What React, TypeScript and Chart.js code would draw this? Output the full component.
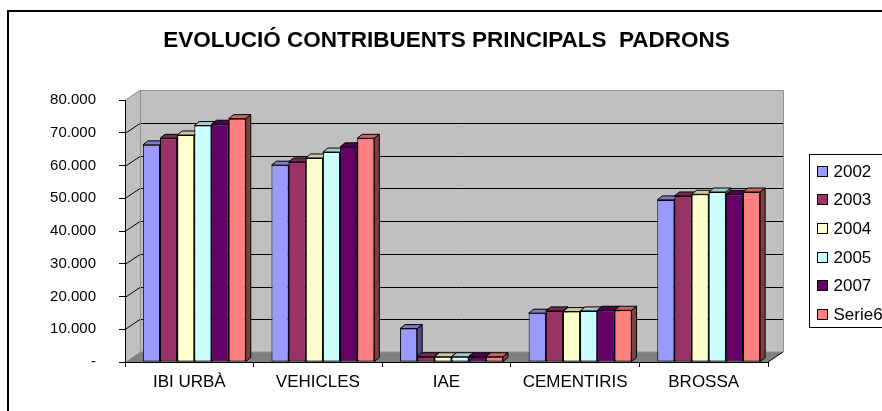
import React, { useEffect, useRef } from 'react';
import { Chart, registerables } from 'chart.js';

Chart.register(...registerables);

const categories = ['IBI URBÀ', 'VEHICLES', 'IAE', 'CEMENTIRIS', 'BROSSA'];
const seriesLabels = ['2002', '2003', '2004', '2005', '2007', 'Serie6'];
const s2002 = [66300, 60100, 10200, 14900, 49500];
const s2003 = [68300, 61100, 1600, 15600, 50700];
const s2004 = [69300, 62300, 1600, 15400, 51200];
const s2005 = [72200, 64100, 1600, 15600, 51900];
const s2007 = [72600, 65700, 1600, 15800, 51200];
const s6 = [74300, 68300, 1600, 15800, 51900];
const seriesValues = [s2002, s2003, s2004, s2005, s2007, s6];
const seriesColors = ['#9999FF', '#993366', '#FFFFCC', '#CCFFFF', '#660066', '#FF8080'];
const yMin = 0;
const yMax = 80000;
const yStep = 10000;
const titleText = 'EVOLUCIÓ CONTRIBUENTS PRINCIPALS  PADRONS';

const FONT = "'Liberation Sans', Arial, Helvetica, sans-serif";
const DX = 15;
const DY = 10;
const BD = 5;
const BDY = 4;

function shade(hex: string, f: number): string {
  const h = hex.replace('#', '');
  const r = Math.round(parseInt(h.slice(0, 2), 16) * f);
  const g = Math.round(parseInt(h.slice(2, 4), 16) * f);
  const b = Math.round(parseInt(h.slice(4, 6), 16) * f);
  return `rgb(${r},${g},${b})`;
}

function poly(ctx: CanvasRenderingContext2D, pts: number[][], fill: string | null, stroke: string | null) {
  ctx.beginPath();
  ctx.moveTo(pts[0][0], pts[0][1]);
  for (let i = 1; i < pts.length; i++) ctx.lineTo(pts[i][0], pts[i][1]);
  ctx.closePath();
  if (fill) {
    ctx.fillStyle = fill;
    ctx.fill();
  }
  if (stroke) {
    ctx.strokeStyle = stroke;
    ctx.stroke();
  }
}

const wallsPlugin = {
  id: 'walls3d',
  beforeDraw(chart: any) {
    const { ctx, chartArea: a, scales } = chart;
    const ys = scales.y;
    const L = a.left, R = a.right, T = a.top, B = a.bottom;
    ctx.save();
    ctx.lineWidth = 1;
    poly(ctx, [[L + DX, T - DY], [R + DX, T - DY], [R + DX, B - DY], [L + DX, B - DY]], '#C0C0C0', null);
    poly(ctx, [[L, T], [L + DX, T - DY], [L + DX, B - DY], [L, B]], '#C0C0C0', null);
    poly(ctx, [[L, B], [L + DX, B - DY], [R + DX, B - DY], [R, B]], '#808080', null);
    ctx.strokeStyle = '#000';
    for (let v = yMin + yStep; v < yMax; v += yStep) {
      const py = Math.round(ys.getPixelForValue(v)) + 0.5;
      ctx.beginPath();
      ctx.moveTo(L, py);
      ctx.lineTo(L + DX, py - DY);
      ctx.lineTo(R + DX, py - DY);
      ctx.stroke();
    }
    ctx.strokeStyle = '#909090';
    const tp = Math.round(T) + 0.5;
    ctx.beginPath();
    ctx.moveTo(L, tp);
    ctx.lineTo(L + DX, tp - DY);
    ctx.lineTo(R + DX + 0.5, tp - DY);
    ctx.lineTo(R + DX + 0.5, B - DY);
    ctx.stroke();
    ctx.beginPath();
    ctx.moveTo(L + DX + 0.5, tp - DY);
    ctx.lineTo(L + DX + 0.5, B - DY);
    ctx.lineTo(R + DX, B - DY);
    ctx.stroke();
    ctx.strokeStyle = '#000';
    ctx.beginPath();
    ctx.moveTo(R, B);
    ctx.lineTo(R + DX, B - DY);
    ctx.stroke();
    ctx.restore();
  },
};

const bars3dPlugin = {
  id: 'bars3d',
  beforeDatasetsDraw(chart: any) {
    const ctx = chart.ctx;
    const n = chart.data.labels.length;
    const metas = chart.data.datasets.map((_: any, i: number) => chart.getDatasetMeta(i));
    ctx.save();
    for (let j = 0; j < n; j++) {
      for (let i = 0; i < metas.length; i++) {
        const el = metas[i].data[j];
        if (!el) continue;
        const { x, y, base, width } = el.getProps(['x', 'y', 'base', 'width'], true);
        const left = x - width / 2;
        const right = x + width / 2;
        const col = seriesColors[i];
        el.draw(ctx);
        ctx.lineWidth = 1;
        poly(ctx, [[left, y], [left + BD, y - BDY], [right + BD, y - BDY], [right, y]], shade(col, 0.8), '#000');
        poly(ctx, [[right, y], [right + BD, y - BDY], [right + BD, base - BDY], [right, base]], shade(col, 0.5), '#000');
      }
    }
    ctx.restore();
    return false;
  },
};

const legendPlugin = {
  id: 'boxLegend',
  afterDraw(chart: any) {
    const { ctx, chartArea: a } = chart;
    const lx = Math.round(a.right + 41) + 0.5;
    const ly = Math.round(a.top + 54) + 0.5;
    const lh = 173;
    ctx.save();
    ctx.lineWidth = 1;
    ctx.fillStyle = '#fff';
    ctx.fillRect(lx, ly, 300, lh);
    ctx.strokeStyle = '#000';
    ctx.strokeRect(lx, ly, 300, lh);
    ctx.font = `17px ${FONT}`;
    ctx.textBaseline = 'middle';
    ctx.textAlign = 'left';
    chart.data.datasets.forEach((ds: any, k: number) => {
      const cy = Math.round(ly + 16 + 28.7 * k);
      ctx.fillStyle = ds.backgroundColor;
      ctx.fillRect(lx + 8, cy - 5, 10, 10);
      ctx.strokeStyle = '#000';
      ctx.strokeRect(lx + 8, cy - 5 + 0.5, 10, 10);
      ctx.fillStyle = '#000';
      ctx.fillText(ds.label, lx + 24, cy + 1);
    });
    ctx.restore();
  },
};

const shiftPlugin = {
  id: 'shiftBars',
  afterLayout(chart: any) {
    const s = chart.scales.xb;
    if (s) {
      s.left += BD;
      s.right += BD;
      s.configure();
    }
  },
};

export default function App() {
  const ref = useRef<HTMLCanvasElement | null>(null);
  useEffect(() => {
    if (!ref.current) return;
    Chart.defaults.font.family = FONT;
    Chart.defaults.color = '#000';
    const chart = new Chart(ref.current, {
      type: 'bar',
      data: {
        labels: categories,
        datasets: seriesLabels.map((label, i) => ({
          label,
          data: seriesValues[i],
          backgroundColor: seriesColors[i],
          borderColor: '#000',
          borderWidth: 1,
          borderSkipped: false,
          xAxisID: 'xb',
          yAxisID: 'y',
          barPercentage: 1,
          categoryPercentage: 0.8,
        })),
      },
      options: {
        animation: false,
        responsive: false,
        maintainAspectRatio: false,
        layout: { padding: { left: 0, right: 114, top: 0, bottom: 0 } },
        plugins: {
          legend: { display: false },
          tooltip: { enabled: false },
          title: {
            display: true,
            text: titleText,
            fullSize: false,
            color: '#000',
            font: { family: FONT, size: 22.5, weight: 'bold', lineHeight: 1.2 },
            padding: { top: 27, bottom: 46 },
          },
        },
        scales: {
          x: {
            type: 'category',
            position: 'bottom',
            offset: true,
            grid: { offset: true, drawOnChartArea: false, drawTicks: true, tickLength: 5, color: '#000' },
            border: { display: true, color: '#000', width: 1 },
            ticks: { padding: 5, font: { family: FONT, size: 17 }, color: '#000', maxRotation: 0, autoSkip: false },
            afterFit(s: any) {
              s.height = 49;
            },
          },
          xb: {
            type: 'category',
            position: 'bottom',
            display: false,
            offset: true,
            grid: { offset: true },
          },
          y: {
            type: 'linear',
            position: 'left',
            min: yMin,
            max: yMax,
            ticks: {
              stepSize: yStep,
              padding: 23,
              font: { family: FONT, size: 15 },
              color: '#000',
              callback: (v: any) => (Number(v) === 0 ? '-' : `${Number(v) / 1000}.000`),
            },
            grid: { drawOnChartArea: false, drawTicks: true, tickLength: 6, color: '#000' },
            border: { display: true, color: '#000', width: 1 },
            afterFit(s: any) {
              s.width = 125;
            },
          },
        },
      } as any,
      plugins: [wallsPlugin, bars3dPlugin, legendPlugin, shiftPlugin],
    });
    return () => chart.destroy();
  }, []);

  return (
    <div style={{ position: 'fixed', left: 0, top: 0, width: 882, height: 411, overflow: 'hidden', background: '#fff' }}>
      <div
        style={{
          position: 'absolute',
          left: 7,
          top: 10,
          width: 1000,
          height: 1000,
          border: '2px solid #000',
          boxSizing: 'border-box',
        }}
      />
      <canvas ref={ref} width={882} height={411} style={{ position: 'absolute', left: 0, top: 0, width: 882, height: 411 }} />
    </div>
  );
}
